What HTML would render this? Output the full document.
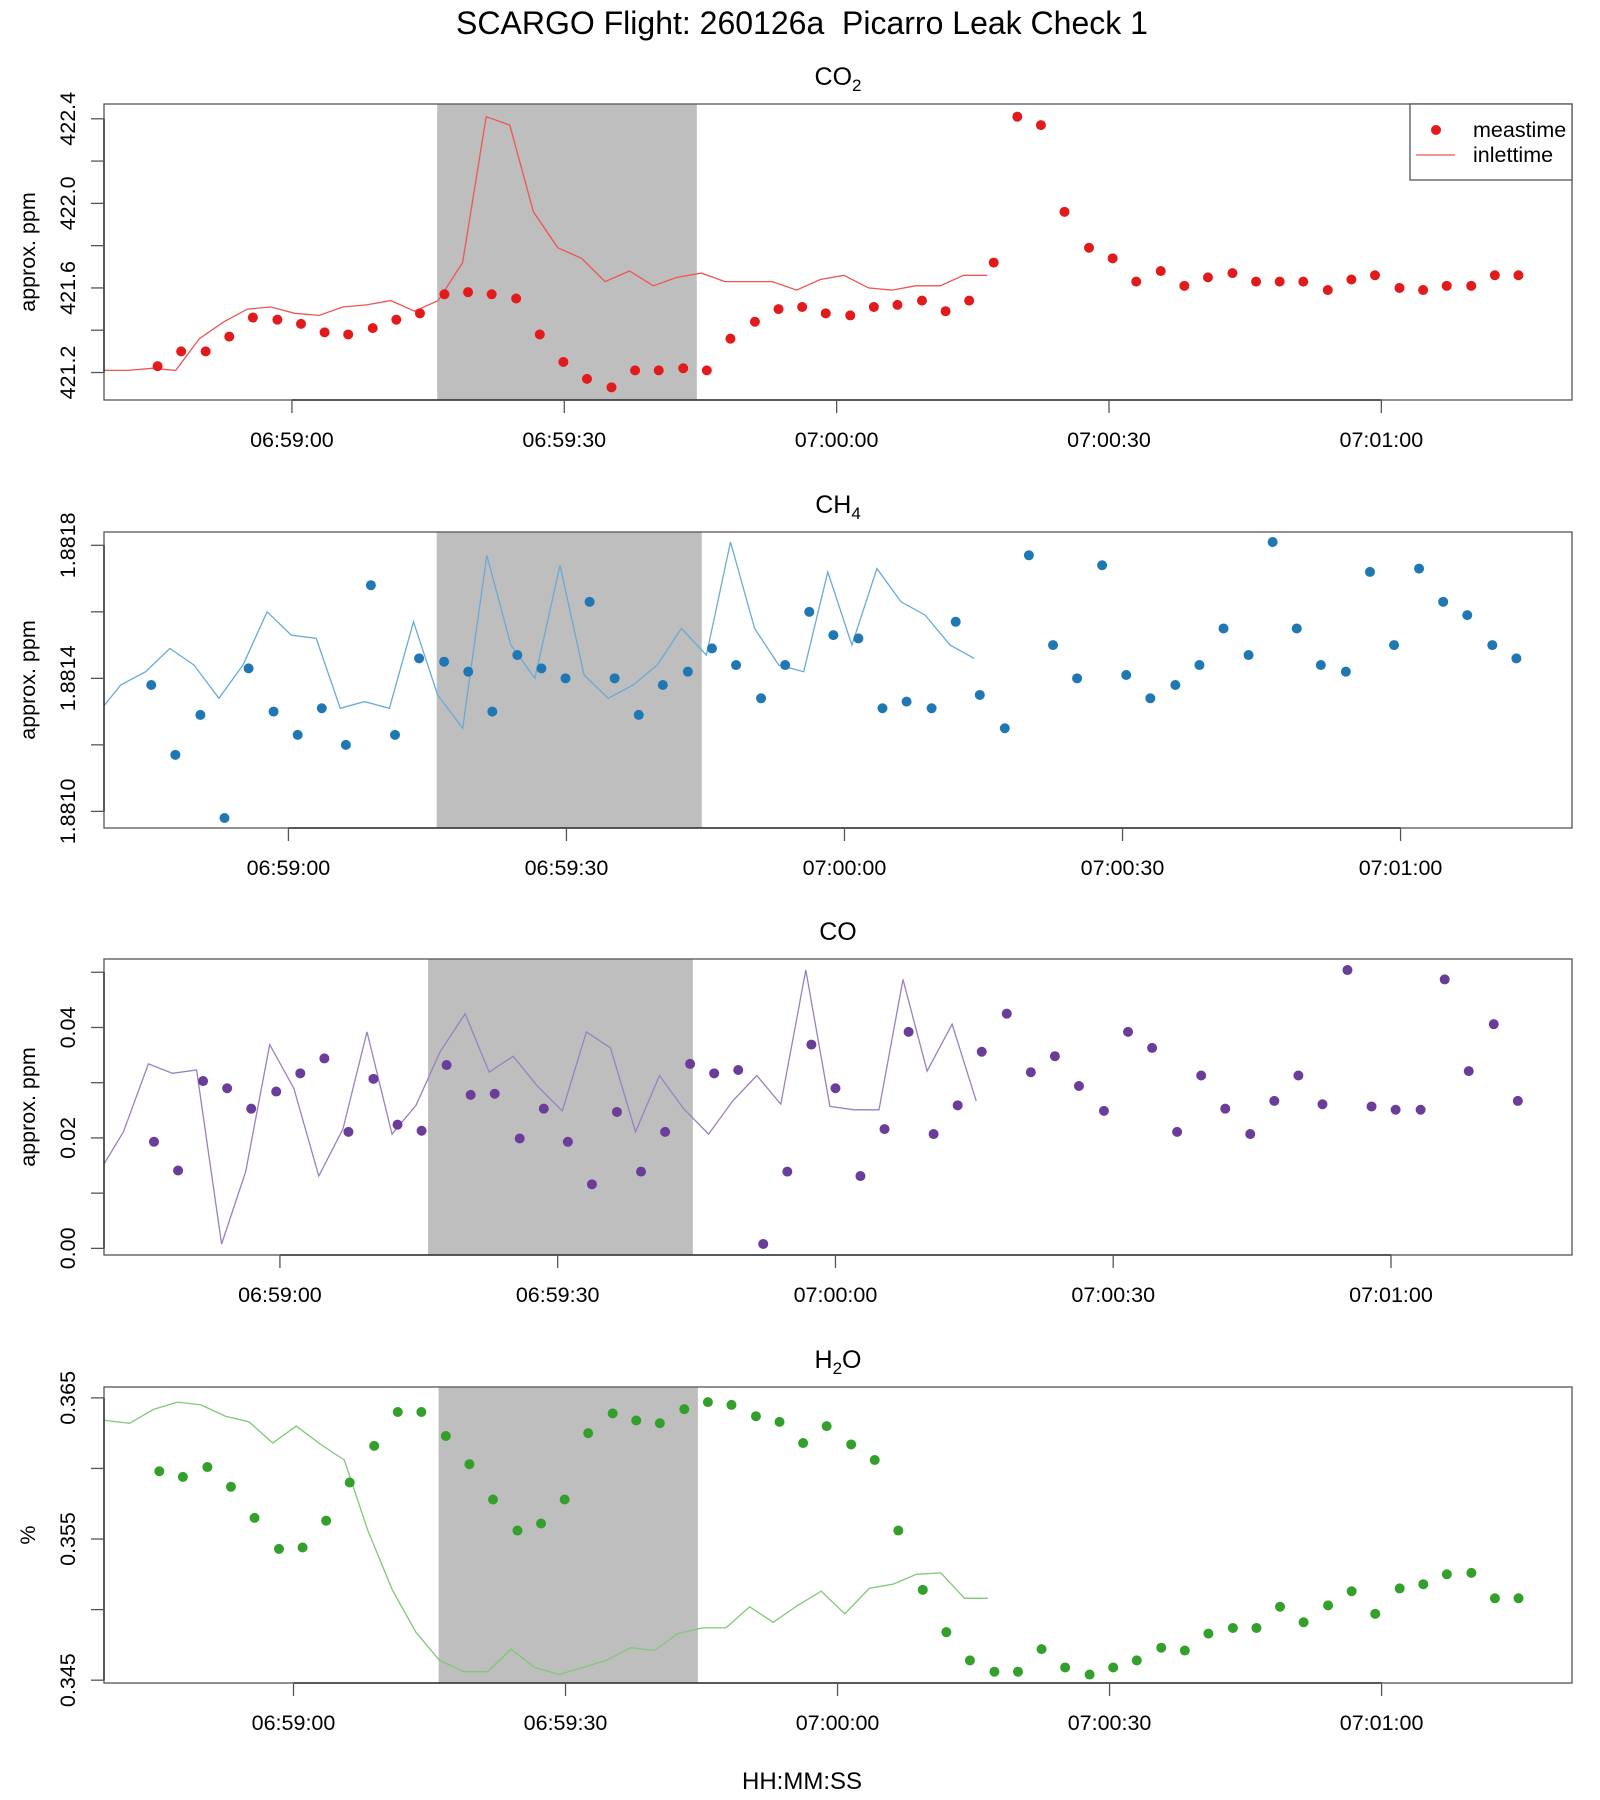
<!DOCTYPE html>
<html><head><meta charset="utf-8"><style>
html,body{margin:0;padding:0;background:#fff;}
svg{display:block;font-family:"Liberation Sans",sans-serif;}
</style></head><body>
<svg id="chart" width="1600" height="1800" viewBox="0 0 1600 1800" xmlns="http://www.w3.org/2000/svg">
<text x="802" y="34" font-size="32" text-anchor="middle">SCARGO Flight: 260126a&#160; Picarro Leak Check 1</text>
<text x="802" y="1789" font-size="24" text-anchor="middle">HH:MM:SS</text>
</svg>
<script>
// time of each measurement, seconds relative to 06:59:00
const measTimes = [-14.8,-12.2,-9.5,-6.9,-4.3,-1.6,1.0,3.6,6.2,8.9,11.5,14.1,16.8,19.4,22.0,24.7,27.3,29.9,32.5,35.2,37.8,40.4,43.1,45.7,48.3,51.0,53.6,56.2,58.8,61.5,64.1,66.7,69.4,72.0,74.6,77.3,79.9,82.5,85.1,87.8,90.4,93.0,95.7,98.3,100.9,103.6,106.2,108.8,111.4,114.1,116.7,119.3,122.0,124.6,127.2,129.9,132.5,135.1];
const inletLag = 58.5;
const shadeWindow = [16.0, 44.6];
const xTickValues = [0, 30, 60, 90, 120];
const xTickLabels = ["06:59:00","06:59:30","07:00:00","07:00:30","07:01:00"];

const co2Values = [421.23,421.30,421.30,421.37,421.46,421.45,421.43,421.39,421.38,421.41,421.45,421.48,421.57,421.58,421.57,421.55,421.38,421.25,421.17,421.13,421.21,421.21,421.22,421.21,421.36,421.44,421.50,421.51,421.48,421.47,421.51,421.52,421.54,421.49,421.54,421.72,422.41,422.37,421.96,421.79,421.74,421.63,421.68,421.61,421.65,421.67,421.63,421.63,421.63,421.59,421.64,421.66,421.60,421.59,421.61,421.61,421.66,421.66];
const ch4Values = [1.88138,1.88117,1.88129,1.88098,1.88143,1.88130,1.88123,1.88131,1.88120,1.88168,1.88123,1.88146,1.88145,1.88142,1.88130,1.88147,1.88143,1.88140,1.88163,1.88140,1.88129,1.88138,1.88142,1.88149,1.88144,1.88134,1.88144,1.88160,1.88153,1.88152,1.88131,1.88133,1.88131,1.88157,1.88135,1.88125,1.88177,1.88150,1.88140,1.88174,1.88141,1.88134,1.88138,1.88144,1.88155,1.88147,1.88181,1.88155,1.88144,1.88142,1.88172,1.88150,1.88173,1.88163,1.88159,1.88150,1.88146];
const coValues = [0.0193,0.0141,0.0303,0.0290,0.0253,0.0284,0.0317,0.0344,0.0211,0.0307,0.0224,0.0213,0.0332,0.0278,0.0280,0.0199,0.0253,0.0193,0.0116,0.0247,0.0139,0.0211,0.0334,0.0317,0.0323,0.0008,0.0139,0.0369,0.0290,0.0131,0.0216,0.0392,0.0207,0.0259,0.0356,0.0425,0.0319,0.0348,0.0294,0.0249,0.0392,0.0363,0.0211,0.0313,0.0253,0.0207,0.0267,0.0313,0.0261,0.0504,0.0257,0.0251,0.0251,0.0487,0.0321,0.0406,0.0267];
const h2oValues = [0.3598,0.3594,0.3601,0.3587,0.3565,0.3543,0.3544,0.3563,0.3590,0.3616,0.3640,0.3640,0.3623,0.3603,0.3578,0.3556,0.3561,0.3578,0.3625,0.3639,0.3634,0.3632,0.3642,0.3647,0.3645,0.3637,0.3633,0.3618,0.3630,0.3617,0.3606,0.3556,0.3514,0.3484,0.3464,0.3456,0.3456,0.3472,0.3459,0.3454,0.3459,0.3464,0.3473,0.3471,0.3483,0.3487,0.3487,0.3502,0.3491,0.3503,0.3513,0.3497,0.3515,0.3518,0.3525,0.3526,0.3508,0.3508];

const co2YTicks = [421.2,421.4,421.6,421.8,422.0,422.2,422.4];
const co2YLabels = ["421.2","","421.6","","422.0","","422.4"];
const ch4YTicks = [1.8810,1.8812,1.8814,1.8816,1.8818];
const ch4YLabels = ["1.8810","","1.8814","","1.8818"];
const coYTicks = [0,0.01,0.02,0.03,0.04,0.05];
const coYLabels = ["0.00","","0.02","","0.04",""];
const h2oYTicks = [0.345,0.350,0.355,0.360,0.365];
const h2oYLabels = ["0.345","","0.355","","0.365"];

const NS = "http://www.w3.org/2000/svg";
const svg = document.getElementById('chart');
function mk(tag, attrs, parent){
  const e = document.createElementNS(NS, tag);
  for (const k in attrs) e.setAttribute(k, attrs[k]);
  (parent||svg).appendChild(e);
  return e;
}

const panels = [
  {key:'co2', title:'CO', sub:'2', top:104, xdom:[-20.7,141.0], tOff:0, ydom:[421.07,422.47], values:co2Values, yt:co2YTicks, yl:co2YLabels, ytitle:'approx. ppm', dot:'#e31a1c', line:'#ee5555', legend:true},
  {key:'ch4', title:'CH', sub:'4', top:532, xdom:[-19.9,138.5], tOff:0, ydom:[1.88095,1.88184], values:ch4Values, yt:ch4YTicks, yl:ch4YLabels, ytitle:'approx. ppm', dot:'#1f78b4', line:'#6aaad8'},
  {key:'co', title:'CO', sub:'', top:959, xdom:[-19.0,139.55], tOff:1.2, ydom:[-0.0012,0.0524], values:coValues, yt:coYTicks, yl:coYLabels, ytitle:'approx. ppm', dot:'#6a3d9a', line:'#9a80c0'},
  {key:'h2o', title:'H', sub:'2', tail:'O', top:1387, xdom:[-20.9,141.0], tOff:0, ydom:[0.3448,0.36577], values:h2oValues, yt:h2oYTicks, yl:h2oYLabels, ytitle:'%', dot:'#33a02c', line:'#80c878'}
];
const L = 104, R = 1572, H = 296;

panels.forEach(p => {
  const g = mk('g', {});
  
  
  const top = p.top, bot = top + H;
  const xs = t => L + (t - p.xdom[0]) / (p.xdom[1] - p.xdom[0]) * (R - L);
  const ys = v => bot - (v - p.ydom[0]) / (p.ydom[1] - p.ydom[0]) * H;

  const shade = mk('rect', {x:xs(shadeWindow[0]), y:top, width:xs(shadeWindow[1]) - xs(shadeWindow[0]), height:H, fill:'#bebebe'}, g);
  
  

  const cid = 'clip-' + p.key;
  const cp = mk('clipPath', {id:cid}, g);
  mk('rect', {x:L, y:top, width:R - L, height:H}, cp);
  let d = '';
  p.values.forEach((v, i) => {
    const t = measTimes[i] + p.tOff - inletLag;
    d += (i ? 'L' : 'M') + xs(t).toFixed(1) + ' ' + ys(v).toFixed(1);
  });
  const line = mk('path', {d:d, fill:'none', stroke:p.line, 'stroke-width':1.3, 'clip-path':'url(#' + cid + ')'}, g);
  
  

  p.values.forEach((v, i) => {
    const c = mk('circle', {cx:xs(measTimes[i] + p.tOff), cy:ys(v), r:5, fill:p.dot}, g);
    
    
  });

  const box = mk('rect', {x:L, y:top, width:R - L, height:H, fill:'none', stroke:'#555', 'stroke-width':1.3}, g);
  
  

  const xa = mk('g', {}, g);
  
  
  mk('line', {x1:xs(xTickValues[0]), x2:xs(xTickValues[xTickValues.length-1]), y1:bot, y2:bot, stroke:'#333', 'stroke-width':1.5}, xa);
  xTickValues.forEach((t, i) => {
    mk('line', {x1:xs(t), x2:xs(t), y1:bot, y2:bot + 13, stroke:'#555', 'stroke-width':1.3}, xa);
    const tx = mk('text', {x:xs(t), y:bot + 47, 'font-size':21.5, 'text-anchor':'middle'}, xa);
    tx.textContent = xTickLabels[i];
    
    
  });

  const ya = mk('g', {}, g);
  
  
  mk('line', {x1:L, x2:L, y1:ys(p.yt[0]), y2:ys(p.yt[p.yt.length-1]), stroke:'#333', 'stroke-width':1.5}, ya);
  p.yt.forEach((v, i) => {
    const y = ys(v);
    mk('line', {x1:L - 13, x2:L, y1:y, y2:y, stroke:'#555', 'stroke-width':1.3}, ya);
    if (p.yl[i]) {
      const tx = mk('text', {x:75, y:y, 'font-size':21.5, 'text-anchor':'middle', transform:'rotate(-90 75 ' + y + ')'}, ya);
      tx.textContent = p.yl[i];
      
      
    }
  });
  const ym = top + H / 2;
  const yt = mk('text', {x:35, y:ym, 'font-size':21.5, 'text-anchor':'middle', transform:'rotate(-90 35 ' + ym + ')'}, g);
  yt.textContent = p.ytitle;
  
  

  const ti = mk('text', {x:(L + R) / 2, y:top - 19, 'font-size':25, 'text-anchor':'middle'}, g);
  
  
  ti.appendChild(document.createTextNode(p.title));
  if (p.sub) {
    const s = document.createElementNS(NS, 'tspan');
    s.setAttribute('font-size', '17'); s.setAttribute('dy', '6');
    s.textContent = p.sub; ti.appendChild(s);
  }
  if (p.tail) {
    const s2 = document.createElementNS(NS, 'tspan');
    s2.setAttribute('dy', '-6');
    s2.textContent = p.tail; ti.appendChild(s2);
  }

  if (p.legend) {
    const lg = mk('g', {}, g);
    
    
    mk('rect', {x:1410, y:top, width:R - 1410, height:76, fill:'#fff', stroke:'#555', 'stroke-width':1.3}, lg);
    const ld = mk('circle', {cx:1436, cy:top + 26, r:5, fill:p.dot}, lg);
    
    
    const ll = mk('line', {x1:1416, x2:1455, y1:top + 51, y2:top + 51, stroke:p.line, 'stroke-width':1.3}, lg);
    
    
    const t1 = mk('text', {x:1473, y:top + 33, 'font-size':21.5}, lg);
    t1.textContent = 'meastime';
    
    
    const t2 = mk('text', {x:1473, y:top + 58, 'font-size':21.5}, lg);
    t2.textContent = 'inlettime';
    
    
  }
});
</script>
</body></html>
